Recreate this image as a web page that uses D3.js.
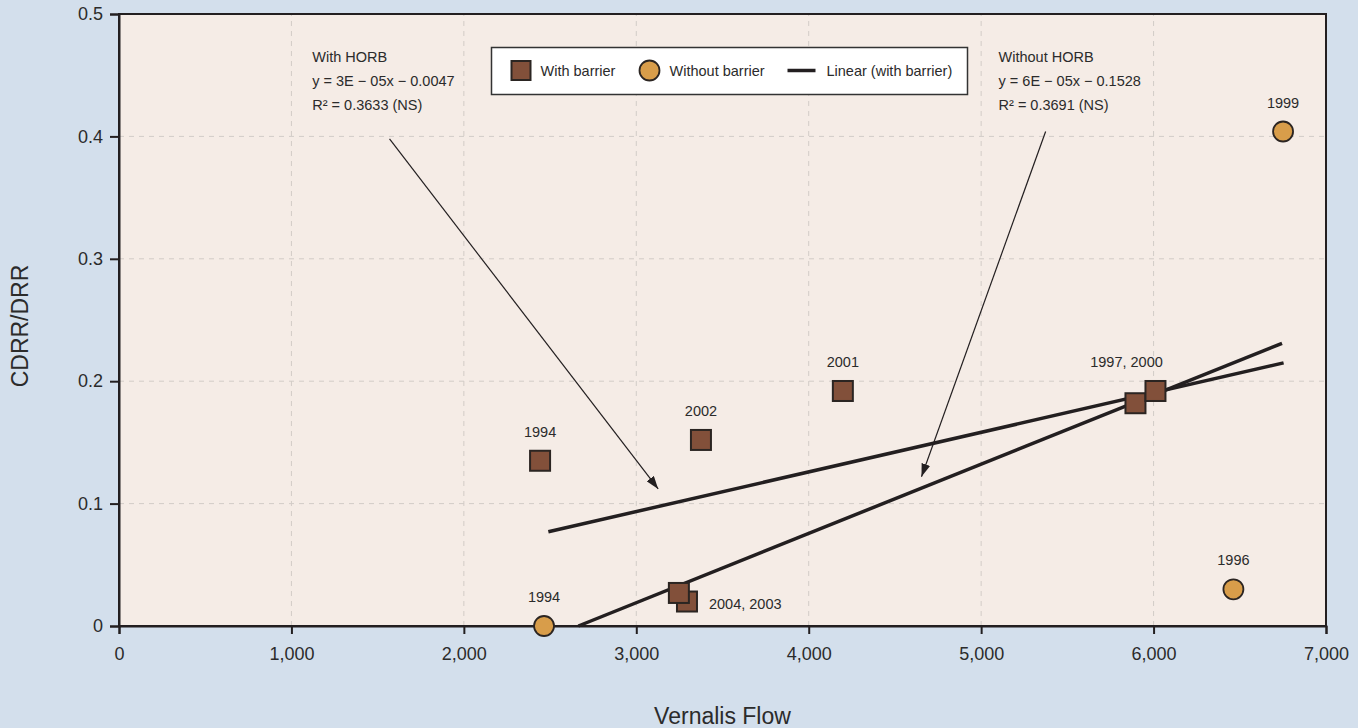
<!DOCTYPE html>
<html>
<head>
<meta charset="utf-8">
<script src="https://cdn.jsdelivr.net/npm/d3@7"></script>
<style>
  body { margin: 0; background: #d3dfec; }
  svg { display: block; font-family: "Liberation Sans", Arial, sans-serif; }
</style>
</head>
<body>
<svg id="chart" width="1358" height="728"></svg>
<script>
// with barrier (squares) -- 2003 before 2004 so 2004 sits on top
const withYears = ['1994', '2002', '2001', '1997', '2000', '2003', '2004'];
const withFlow = [2442, 3375, 4198, 5895, 6011, 3294, 3247];
const withRatio = [0.135, 0.152, 0.192, 0.182, 0.192, 0.020, 0.027];

// without barrier (circles)
const withoutYears = ['1994', '1996', '1999'];
const withoutFlow = [2465, 6463, 6751];
const withoutRatio = [0, 0.030, 0.404];

// trend line end points [flow, ratio]
const trendWith = [[2490, 0.077], [6754, 0.215]];
const trendWithout = [[2664, 0], [6745, 0.231]];

// point labels: text, anchor flow, anchor ratio, placement
const pointLabels = [
  ['1994', 2442, 0.135, 'above'],
  ['2002', 3375, 0.152, 'above'],
  ['2001', 4198, 0.192, 'above'],
  ['1997, 2000', 5843, 0.192, 'above'],
  ['2004, 2003', 3294, 0.020, 'right'],
  ['1994', 2465, 0, 'above'],
  ['1996', 6463, 0.030, 'above'],
  ['1999', 6751, 0.404, 'above']
];

// regression notes and their arrows
const noteWith = ['With HORB', 'y = 3E − 05x − 0.0047', 'R² = 0.3633 (NS)'];
const noteWithout = ['Without HORB', 'y = 6E − 05x − 0.1528', 'R² = 0.3691 (NS)'];
const noteAnchors = [[1121, 0.465], [5101, 0.465]];
const arrows = [
  [[1569, 0.398], [3127, 0.112]],
  [[5374, 0.404], [4654, 0.122]]
];

const xTicks = [0, 1000, 2000, 3000, 4000, 5000, 6000, 7000];
const yTicks = [0, 0.1, 0.2, 0.3, 0.4, 0.5];

const legendItems = ['With barrier', 'Without barrier', 'Linear (with barrier)'];

const BROWN = '#82503a';
const ORANGE = '#d89d4a';
const INK = '#231f20';

const svg = d3.select('#chart');

const x = d3.scaleLinear().domain([0, 7000]).range([119, 1326]);
const y = d3.scaleLinear().domain([0, 0.5]).range([626, 14]);

svg.append('rect')
  .attr('width', 1358).attr('height', 728)
  .attr('fill', '#d3dfec');

svg.append('rect')
  .attr('x', x(0)).attr('y', y(0.5))
  .attr('width', x(7000) - x(0)).attr('height', y(0) - y(0.5))
  .attr('fill', '#f5ece6');

// grid
const grid = svg.append('g')
  .attr('stroke', '#d2ccc7')
  .attr('stroke-dasharray', '5,5')
  .attr('stroke-width', 1);

grid.selectAll('.vgrid')
  .data(xTicks.slice(1, -1))
  .enter().append('line')
  .attr('x1', d => x(d)).attr('x2', d => x(d))
  .attr('y1', y(0)).attr('y2', y(0.5));

grid.selectAll('.hgrid')
  .data(yTicks.slice(1, -1))
  .enter().append('line')
  .attr('x1', x(0)).attr('x2', x(7000))
  .attr('y1', d => y(d)).attr('y2', d => y(d));

// frame
svg.append('rect')
  .attr('x', x(0)).attr('y', y(0.5))
  .attr('width', x(7000) - x(0)).attr('height', y(0) - y(0.5))
  .attr('fill', 'none')
  .attr('stroke', INK)
  .attr('stroke-width', 2);

// axes
const xAxis = svg.append('g')
  .attr('transform', `translate(0,${y(0)})`)
  .call(d3.axisBottom(x).tickValues(xTicks).tickFormat(d3.format(','))
    .tickSize(8).tickPadding(13));

const yAxis = svg.append('g')
  .attr('transform', `translate(${x(0)},0)`)
  .call(d3.axisLeft(y).tickValues(yTicks)
    .tickFormat(d => d === 0 ? '0' : d3.format('.1f')(d))
    .tickSize(9).tickPadding(7));

[xAxis, yAxis].forEach(axis => {
  axis.select('.domain').attr('stroke', INK).attr('stroke-width', 2);
  axis.selectAll('.tick line').attr('stroke', INK).attr('stroke-width', 2);
  axis.selectAll('.tick text')
    .attr('fill', '#2b2b2b')
    .style('font-size', '18px')
    .style('font-family', '"Liberation Sans", Arial, sans-serif');
});

svg.append('text')
  .attr('x', (x(0) + x(7000)) / 2)
  .attr('y', 724)
  .attr('text-anchor', 'middle')
  .attr('fill', '#2b2b2b')
  .style('font-size', '23px')
  .text('Vernalis Flow');

svg.append('text')
  .attr('transform', `translate(28,${(y(0) + y(0.5)) / 2 + 6}) rotate(-90)`)
  .attr('text-anchor', 'middle')
  .attr('fill', '#2b2b2b')
  .style('font-size', '23px')
  .text('CDRR/DRR');

// trend lines
const line = d3.line().x(d => x(d[0])).y(d => y(d[1]));

svg.selectAll('.trend')
  .data([trendWith, trendWithout])
  .enter().append('path')
  .attr('class', 'trend')
  .attr('d', line)
  .attr('fill', 'none')
  .attr('stroke', INK)
  .attr('stroke-width', 3.5);

// points
svg.selectAll('.sq')
  .data(withYears)
  .enter().append('rect')
  .attr('class', 'sq')
  .attr('x', (d, i) => x(withFlow[i]) - 10)
  .attr('y', (d, i) => y(withRatio[i]) - 10)
  .attr('width', 20).attr('height', 20)
  .attr('fill', BROWN)
  .attr('stroke', '#2b2522')
  .attr('stroke-width', 2);

svg.selectAll('.dot')
  .data(withoutYears)
  .enter().append('circle')
  .attr('class', 'dot')
  .attr('cx', (d, i) => x(withoutFlow[i]))
  .attr('cy', (d, i) => y(withoutRatio[i]))
  .attr('r', 10)
  .attr('fill', ORANGE)
  .attr('stroke', '#2b2522')
  .attr('stroke-width', 1.8);

// labels
svg.selectAll('.plabel')
  .data(pointLabels)
  .enter().append('text')
  .attr('class', 'plabel')
  .attr('x', d => d[3] === 'right' ? x(d[1]) + 22 : x(d[1]))
  .attr('y', d => d[3] === 'right' ? y(d[2]) + 7 : y(d[2]) - 24)
  .attr('text-anchor', d => d[3] === 'right' ? 'start' : 'middle')
  .attr('fill', '#2b2b2b')
  .style('font-size', '14.5px')
  .text(d => d[0]);

// notes
[noteWith, noteWithout].forEach((note, k) => {
  const [fx, fy] = noteAnchors[k];
  svg.append('g').selectAll('text')
    .data(note)
    .enter().append('text')
    .attr('x', x(fx))
    .attr('y', (d, i) => y(fy) + 5 + i * 24)
    .attr('fill', '#2b2b2b')
    .style('font-size', '14.5px')
    .text(d => d);
});

svg.append('defs').append('marker')
  .attr('id', 'head')
  .attr('markerUnits', 'userSpaceOnUse')
  .attr('viewBox', '0 0 13 9')
  .attr('markerWidth', 13).attr('markerHeight', 9)
  .attr('refX', 13).attr('refY', 4.5)
  .attr('orient', 'auto')
  .append('path')
  .attr('d', 'M0,0L13,4.5L0,9Z')
  .attr('fill', INK);

svg.selectAll('.arrow')
  .data(arrows)
  .enter().append('path')
  .attr('class', 'arrow')
  .attr('d', line)
  .attr('fill', 'none')
  .attr('stroke', INK)
  .attr('stroke-width', 1.2)
  .attr('marker-end', 'url(#head)');

// legend
const legend = svg.append('g').attr('transform', 'translate(491.5,47.5)');

legend.append('rect')
  .attr('width', 476).attr('height', 47)
  .attr('fill', '#ffffff')
  .attr('stroke', '#333')
  .attr('stroke-width', 1.5);

legend.append('rect')
  .attr('x', 20).attr('y', 13.5)
  .attr('width', 19).attr('height', 19)
  .attr('fill', BROWN)
  .attr('stroke', '#2b2522')
  .attr('stroke-width', 2);

legend.append('circle')
  .attr('cx', 158).attr('cy', 23)
  .attr('r', 10)
  .attr('fill', ORANGE)
  .attr('stroke', '#2b2522')
  .attr('stroke-width', 1.8);

legend.append('line')
  .attr('x1', 296).attr('x2', 324)
  .attr('y1', 23).attr('y2', 23)
  .attr('stroke', INK)
  .attr('stroke-width', 3.5);

legend.selectAll('.ltext')
  .data(legendItems)
  .enter().append('text')
  .attr('class', 'ltext')
  .attr('x', (d, i) => [49, 178, 335][i])
  .attr('y', 28)
  .attr('fill', '#2b2b2b')
  .style('font-size', '14.5px')
  .text(d => d);
</script>
</body>
</html>
